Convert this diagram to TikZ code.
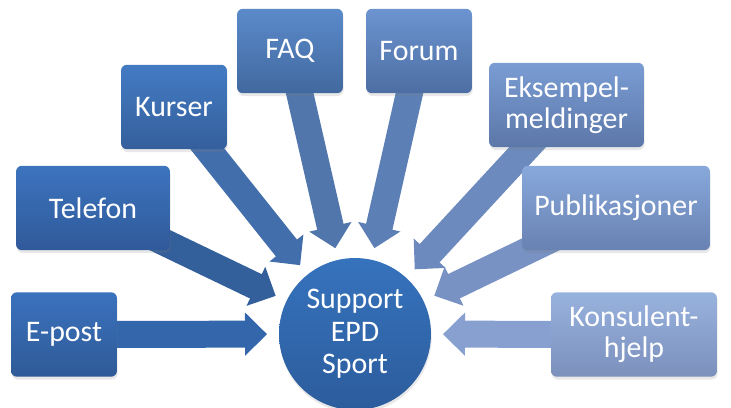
\documentclass[tikz,border=0pt]{standalone}
\usepackage{fontspec}
\setmainfont{Carlito}
\usetikzlibrary{calc,shadows,arrows.meta,backgrounds}

\definecolor{hubtop}{HTML}{3673BD}
\definecolor{hubbot}{HTML}{2C5C9C}
\definecolor{eposttop}{HTML}{3A72BD}
\definecolor{epostbot}{HTML}{2F5A97}
\definecolor{epostfeed}{HTML}{3466AC}
\definecolor{telefontop}{HTML}{3C74BE}
\definecolor{telefonbot}{HTML}{30599A}
\definecolor{telefonfeed}{HTML}{335F9B}
\definecolor{kursertop}{HTML}{437BC3}
\definecolor{kurserbot}{HTML}{355F9C}
\definecolor{kurserfeed}{HTML}{426EAC}
\definecolor{faqtop}{HTML}{5B8ACA}
\definecolor{faqbot}{HTML}{41699F}
\definecolor{faqfeed}{HTML}{5076AC}
\definecolor{forumtop}{HTML}{6C94D0}
\definecolor{forumbot}{HTML}{4D6EA3}
\definecolor{forumfeed}{HTML}{5C80B6}
\definecolor{eksempeltop}{HTML}{7A9DD4}
\definecolor{eksempelbot}{HTML}{5C77A8}
\definecolor{eksempelfeed}{HTML}{6C8ABE}
\definecolor{publiktop}{HTML}{88A8DB}
\definecolor{publikbot}{HTML}{6882B2}
\definecolor{publikfeed}{HTML}{7892C4}
\definecolor{konsulenttop}{HTML}{98B2DE}
\definecolor{konsulentbot}{HTML}{7C90BC}
\definecolor{konsulentfeed}{HTML}{88A0D0}

\begin{document}
\begin{tikzpicture}[x=0.02cm, y=-0.02cm,
  box/.style={rectangle, rounded corners=0.12cm, top color=#1top, bottom color=#1bot,
    text=white, align=center, font=\fontsize{17}{17.5}\selectfont, minimum height=1.69cm,
    drop shadow={opacity=0.18, shadow xshift=0.4pt, shadow yshift=-1.6pt}},
  hub/.style={circle, minimum size=3.04cm, inner sep=0pt, top color=hubtop, bottom color=hubbot,
    text=white, align=center, font=\fontsize{17}{18.5}\selectfont,
    drop shadow={opacity=0.18, shadow xshift=0.4pt, shadow yshift=-1.6pt}},
  feed/.style={line width=0.54cm, draw=#1feed, -{Triangle[length=0.44cm, width=0.84cm]}}]
\useasboundingbox (0,0) rectangle (731,408);

\node[hub] (hub) at (355,334) {Support\\EPD\\Sport};

\node[box=epost, minimum width=2.12cm] (epost) at (64,334.5) {E-post};
\node[box=telefon, minimum width=3.08cm] (telefon) at (93,208) {Telefon};
\node[box=kurser, minimum width=2.12cm] (kurser) at (174,107) {Kurser};
\node[box=faq, minimum width=2.12cm] (faq) at (290,51) {FAQ};
\node[box=forum, minimum width=2.12cm] (forum) at (419,51) {Forum};
\node[box=eksempel, minimum width=3.10cm] (eksempel) at (566.5,105) {Eksempel-\\meldinger};
\node[box=publik, minimum width=3.76cm] (publik) at (616,208) {Publikasjoner};
\node[box=konsulent, minimum width=3.32cm] (konsulent) at (634,334.5) {Konsulent-\\hjelp};

\begin{pgfonlayer}{background}
\draw[feed=epost] (epost.center) -- ($(hub.center)!1.76cm!(epost.center)$);
\draw[feed=telefon] (telefon.center) -- ($(hub.center)!1.76cm!(telefon.center)$);
\draw[feed=kurser] (kurser.center) -- ($(hub.center)!1.76cm!(kurser.center)$);
\draw[feed=faq] (faq.center) -- ($(hub.center)!1.76cm!(faq.center)$);
\draw[feed=forum] (forum.center) -- ($(hub.center)!1.76cm!(forum.center)$);
\draw[feed=eksempel] (eksempel.center) -- ($(hub.center)!1.76cm!(eksempel.center)$);
\draw[feed=publik] (publik.center) -- ($(hub.center)!1.76cm!(publik.center)$);
\draw[feed=konsulent] (konsulent.center) -- ($(hub.center)!1.76cm!(konsulent.center)$);
\end{pgfonlayer}
\end{tikzpicture}
\end{document}
